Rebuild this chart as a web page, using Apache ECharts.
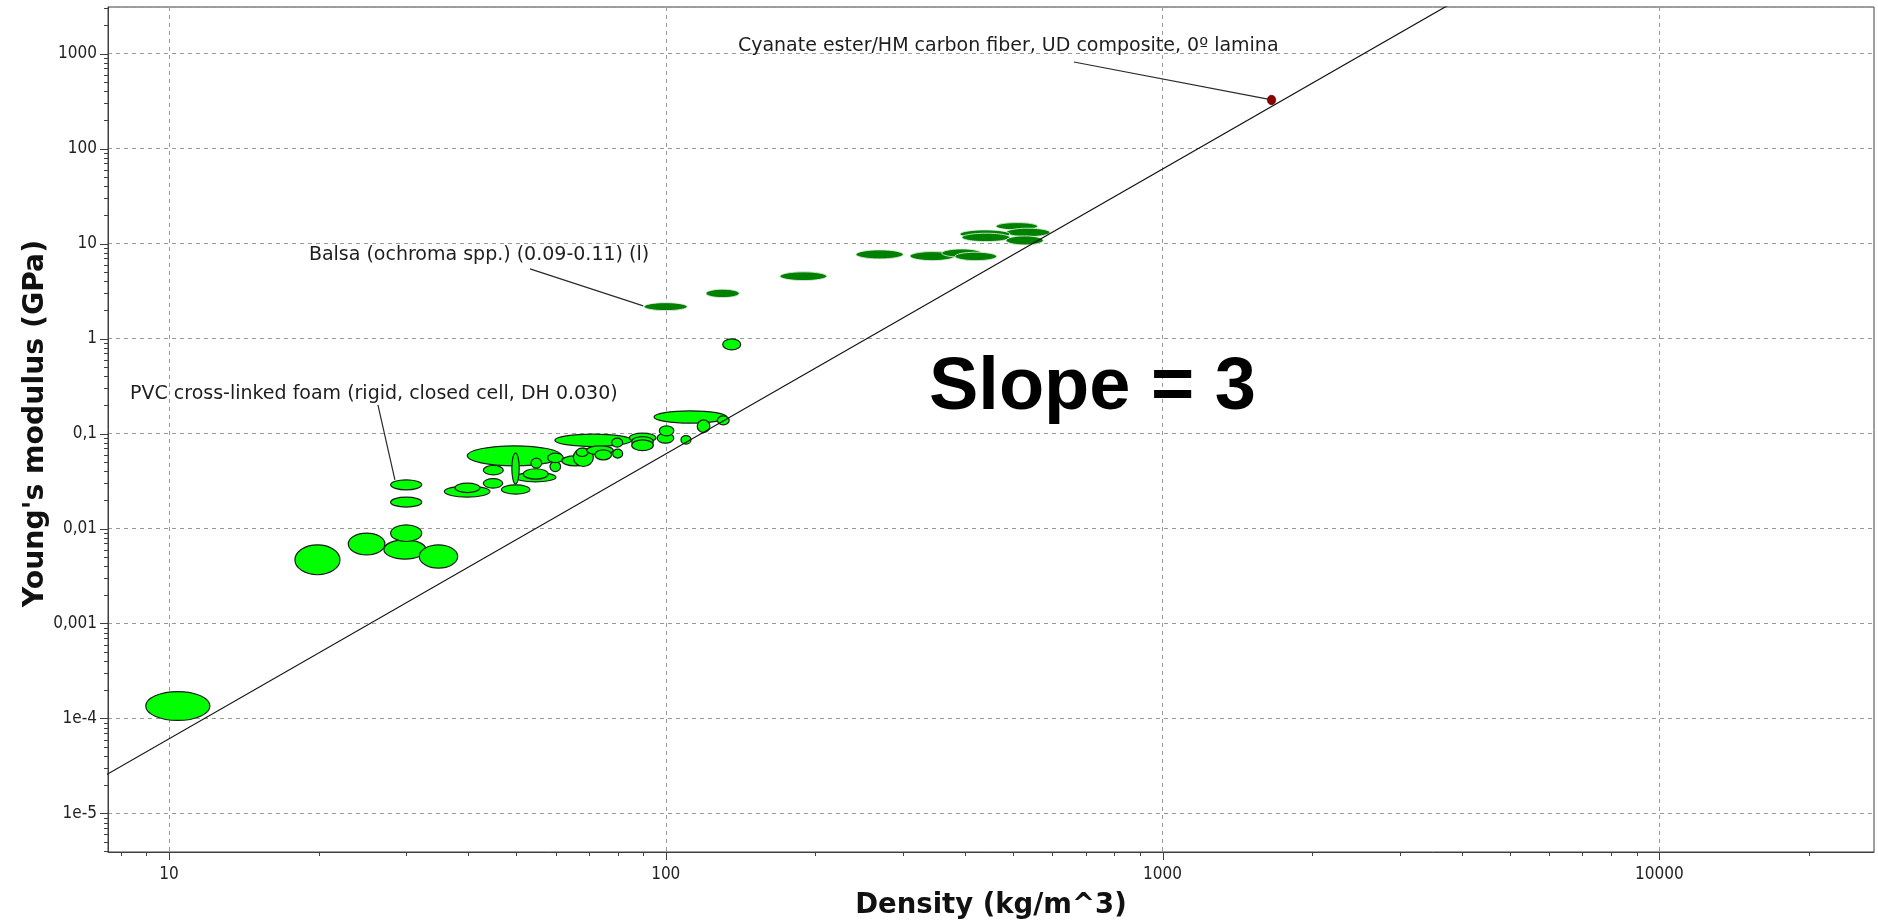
<!DOCTYPE html>
<html>
<head>
<meta charset="utf-8">
<script src="https://cdn.jsdelivr.net/npm/echarts@6/dist/echarts.min.js"></script>
<style>
  html, body { margin: 0; padding: 0; background: #ffffff; }
  #chart { width: 1878px; height: 920px; }
</style>
</head>
<body>
<div id="chart"></div>
<script>
// Plot window: density (kg/m^3) and Young's modulus (GPa)
const densityRange = [7.539, 27040];
const modulusRange = [3.925e-6, 3101];

const densityTickValues = [10, 100, 1000, 10000];
const densityTickLabels = ['10', '100', '1000', '10000'];
const modulusTickValues = [1e-5, 1e-4, 1e-3, 1e-2, 1e-1, 1, 10, 100, 1000];
const modulusTickLabels = ['1e-5', '1e-4', '0,001', '0,01', '0,1', '1', '10', '100', '1000'];

// Each record: [density low, density high, modulus low, modulus high]
// Foams (drawn light green), larger bubbles first so small ones sit on top
const foams = [
  [8.98, 12.09, 9.53e-5, 1.92e-4],
  [17.93, 22.09, 3.26e-3, 6.74e-3],
  [22.96, 27.21, 5.28e-3, 8.95e-3],
  [27.08, 32.9, 4.76e-3, 7.60e-3],
  [27.94, 32.27, 7.30e-3, 0.01094],
  [31.91, 38.12, 3.83e-3, 6.74e-3],
  [27.94, 32.27, 0.02554, 0.0326],
  [27.94, 32.27, 0.0168, 0.0214],
  [39.85, 61.7, 0.0457, 0.0742],
  [59.8, 85.4, 0.073, 0.0986],
  [94.7, 132.6, 0.1287, 0.1733],
  [35.83, 44.28, 0.0214, 0.0281],
  [37.64, 42.27, 0.02393, 0.03006],
  [42.93, 46.97, 0.0266, 0.0336],
  [46.7, 53.27, 0.02301, 0.02884],
  [42.93, 47.1, 0.0367, 0.0461],
  [49.7, 60.1, 0.031, 0.0389],
  [51.66, 58.0, 0.0331, 0.0426],
  [49.0, 50.7, 0.02956, 0.0622],
  [53.55, 56.27, 0.04324, 0.0551],
  [58.47, 61.43, 0.0398, 0.0507],
  [57.85, 62.2, 0.0495, 0.0622],
  [61.73, 69.8, 0.0457, 0.0582],
  [65.16, 71.5, 0.045, 0.0702],
  [66.0, 69.8, 0.0573, 0.0702],
  [69.3, 78.4, 0.0597, 0.0742],
  [72.0, 77.8, 0.0529, 0.0673],
  [77.8, 81.9, 0.0719, 0.0895],
  [78.2, 81.9, 0.0551, 0.0685],
  [84.45, 95.56, 0.0804, 0.101],
  [85.4, 94.4, 0.073, 0.093],
  [85.4, 94.4, 0.0662, 0.0859],
  [96.1, 103.8, 0.0792, 0.101],
  [97.05, 103.8, 0.0946, 0.1205],
  [107.3, 112.4, 0.0773, 0.0953],
  [115.7, 122.7, 0.1025, 0.1394],
  [127, 134.2, 0.1235, 0.1536],
  [130.2, 141.5, 0.760, 0.993]
];

// Woods (drawn dark green)
const woods = [
  [90.4, 110.5, 1.97, 2.39],
  [120.5, 140.6, 2.70, 3.31],
  [169.8, 210.9, 4.08, 5.04],
  [241.5, 300.6, 6.90, 8.59],
  [310.1, 382.1, 6.62, 8.24],
  [359.3, 432.4, 7.19, 8.79],
  [382.1, 463.6, 6.62, 8.12],
  [462.1, 560.6, 13.94, 16.64],
  [484.1, 593.4, 11.85, 14.53],
  [391.0, 493.0, 11.4, 13.94],
  [394.6, 493.0, 10.5, 12.86],
  [484.1, 575.3, 9.69, 12.05]
];

// Composite laminate (drawn dark red)
const composites = [
  [1625, 1690, 290, 365]
];

// Guide line E ~ rho^3, end points beyond the plot window
const slopeLine = [[7, 2.09e-5], [4000, 3904]];

// Labelled records: text, text anchor, leader start, leader end
const noteTexts = [
  'Cyanate ester/HM carbon fiber, UD composite, 0\u00ba lamina',
  'Balsa (ochroma spp.) (0.09-0.11) (l)',
  'PVC cross-linked foam (rigid, closed cell, DH 0.030)'
];
const noteTextAt = [[139.7, 1190], [19.13, 7.51], [8.35, 0.2586]];
const noteLeaderFrom = [[663, 817.8], [53.3, 5.42], [26.34, 0.2005]];
const noteLeaderTo = [[1640, 330], [90.1, 2.21], [28.5, 0.0326]];

const tickFont = '"DejaVu Sans Condensed", "DejaVu Sans", sans-serif';
const noteFont = '"DejaVu Sans", Verdana, sans-serif';
const axisColor = '#404040';

function labelFor(values, labels) {
  return function (v) {
    const lv = Math.log10(v);
    for (let i = 0; i < values.length; i++) {
      if (Math.abs(Math.log10(values[i]) - lv) < 1e-6) return labels[i];
    }
    return '';
  };
}

// Minor ticks at 2..9 of each decade inside the window
function minorTicks(range) {
  const out = [];
  for (let e = -7; e <= 5; e++) {
    for (let m = 2; m <= 9; m++) {
      const v = m * Math.pow(10, e);
      if (v > range[0] && v < range[1]) out.push(v);
    }
  }
  return out;
}

function tickSeries(values, onX, len) {
  return {
    type: 'custom',
    silent: true,
    clip: false,
    z: 6,
    data: values.map(v => onX ? [v, 1] : [100, v]),
    renderItem: function (params, api) {
      const cs = params.coordSys;
      const p = api.coord([api.value(0), api.value(1)]);
      let shape;
      if (onX) {
        const y0 = cs.y + cs.height;
        shape = { x1: Math.round(p[0]) + 0.5, y1: y0, x2: Math.round(p[0]) + 0.5, y2: y0 + len };
      } else {
        shape = { x1: cs.x - len, y1: Math.round(p[1]) + 0.5, x2: cs.x, y2: Math.round(p[1]) + 0.5 };
      }
      return { type: 'line', shape: shape, style: { stroke: axisColor, lineWidth: 1 } };
    }
  };
}

function bubbleSeries(rows, fill, stroke, lineWidth, z) {
  return {
    type: 'custom',
    silent: true,
    z: z,
    clip: true,
    data: rows,
    renderItem: function (params, api) {
      const a = api.coord([api.value(0), api.value(2)]);
      const b = api.coord([api.value(1), api.value(3)]);
      return {
        type: 'ellipse',
        shape: {
          cx: (a[0] + b[0]) / 2,
          cy: (a[1] + b[1]) / 2,
          rx: Math.abs(b[0] - a[0]) / 2,
          ry: Math.abs(b[1] - a[1]) / 2
        },
        style: { fill: fill, stroke: stroke, lineWidth: lineWidth }
      };
    }
  };
}

const noteRows = noteTexts.map((t, i) => [
  noteTextAt[i][0], noteTextAt[i][1],
  noteLeaderFrom[i][0], noteLeaderFrom[i][1],
  noteLeaderTo[i][0], noteLeaderTo[i][1]
]);

const chart = echarts.init(document.getElementById('chart'), null, { renderer: 'canvas' });

chart.setOption({
  animation: false,
  backgroundColor: '#ffffff',
  grid: {
    left: 108, right: 4, top: 7, bottom: 68,
    containLabel: false,
    outerBoundsMode: 'none',
    show: true, borderColor: axisColor, borderWidth: 1, backgroundColor: 'transparent'
  },
  xAxis: {
    type: 'log',
    logBase: 10,
    min: densityRange[0],
    max: densityRange[1],
    name: 'Density (kg/m^3)',
    nameLocation: 'middle',
    nameGap: 40,
    nameMoveOverlap: false,
    nameTextStyle: { fontFamily: '"DejaVu Sans", sans-serif', fontWeight: 'bold', fontSize: 27.5, color: '#111' },
    axisLine: { show: true, onZero: false, lineStyle: { color: axisColor, width: 1 } },
    axisTick: { show: false },
    axisLabel: {
      formatter: labelFor(densityTickValues, densityTickLabels),
      fontFamily: tickFont, fontSize: 17, color: '#222', margin: 14,
      showMinLabel: false, showMaxLabel: false
    },
    splitLine: { show: true, lineStyle: { color: '#9a9a9a', width: 1, type: [4, 4] } }
  },
  yAxis: {
    type: 'log',
    logBase: 10,
    min: modulusRange[0],
    max: modulusRange[1],
    name: "Young's modulus (GPa)",
    nameLocation: 'middle',
    nameGap: 58,
    nameMoveOverlap: false,
    nameTextStyle: { fontFamily: '"DejaVu Sans", sans-serif', fontWeight: 'bold', fontSize: 28.3, color: '#111', padding: [0, 0, 0, 12] },
    axisLine: { show: true, onZero: false, lineStyle: { color: axisColor, width: 1 } },
    axisTick: { show: false },
    axisLabel: {
      formatter: labelFor(modulusTickValues, modulusTickLabels),
      fontFamily: tickFont, fontSize: 17, color: '#222', margin: 11,
      showMinLabel: false, showMaxLabel: false
    },
    splitLine: { show: true, lineStyle: { color: '#9a9a9a', width: 1, type: [4, 4] } }
  },
  graphic: [{
    type: 'text',
    left: 929,
    top: 352,
    style: { text: 'Slope = 3', font: 'bold 74px "Liberation Sans", Arial, sans-serif', fill: '#000' },
    z: 10
  }],
  series: [
    tickSeries(densityTickValues, true, 8),
    tickSeries(minorTicks(densityRange), true, 4),
    tickSeries(modulusTickValues, false, 8),
    tickSeries(minorTicks(modulusRange), false, 4),
    {
      type: 'custom',
      silent: true,
      z: 4,
      clip: false,
      data: noteRows,
      renderItem: function (params, api) {
        const t = api.coord([api.value(0), api.value(1)]);
        const f = api.coord([api.value(2), api.value(3)]);
        const e = api.coord([api.value(4), api.value(5)]);
        return {
          type: 'group',
          children: [
            { type: 'line', shape: { x1: f[0], y1: f[1], x2: e[0], y2: e[1] }, style: { stroke: '#2a2a2a', lineWidth: 1.2 } },
            {
              type: 'text',
              x: t[0], y: t[1],
              style: {
                text: noteTexts[params.dataIndex],
                font: '19px ' + noteFont,
                fill: '#1e1e1e',
                align: 'left',
                verticalAlign: 'middle'
              }
            }
          ]
        };
      }
    },
    bubbleSeries(foams, '#00ff00', '#1c1c1c', 1.2, 5),
    bubbleSeries(woods, '#008000', 'rgba(225,240,225,0.85)', 1, 5),
    bubbleSeries(composites, '#8b0000', '#5a0000', 0.6, 7),
    {
      type: 'line',
      silent: true,
      z: 6,
      clip: true,
      symbol: 'none',
      data: slopeLine,
      lineStyle: { color: '#111', width: 1.2 }
    }
  ]
});
</script>
</body>
</html>
